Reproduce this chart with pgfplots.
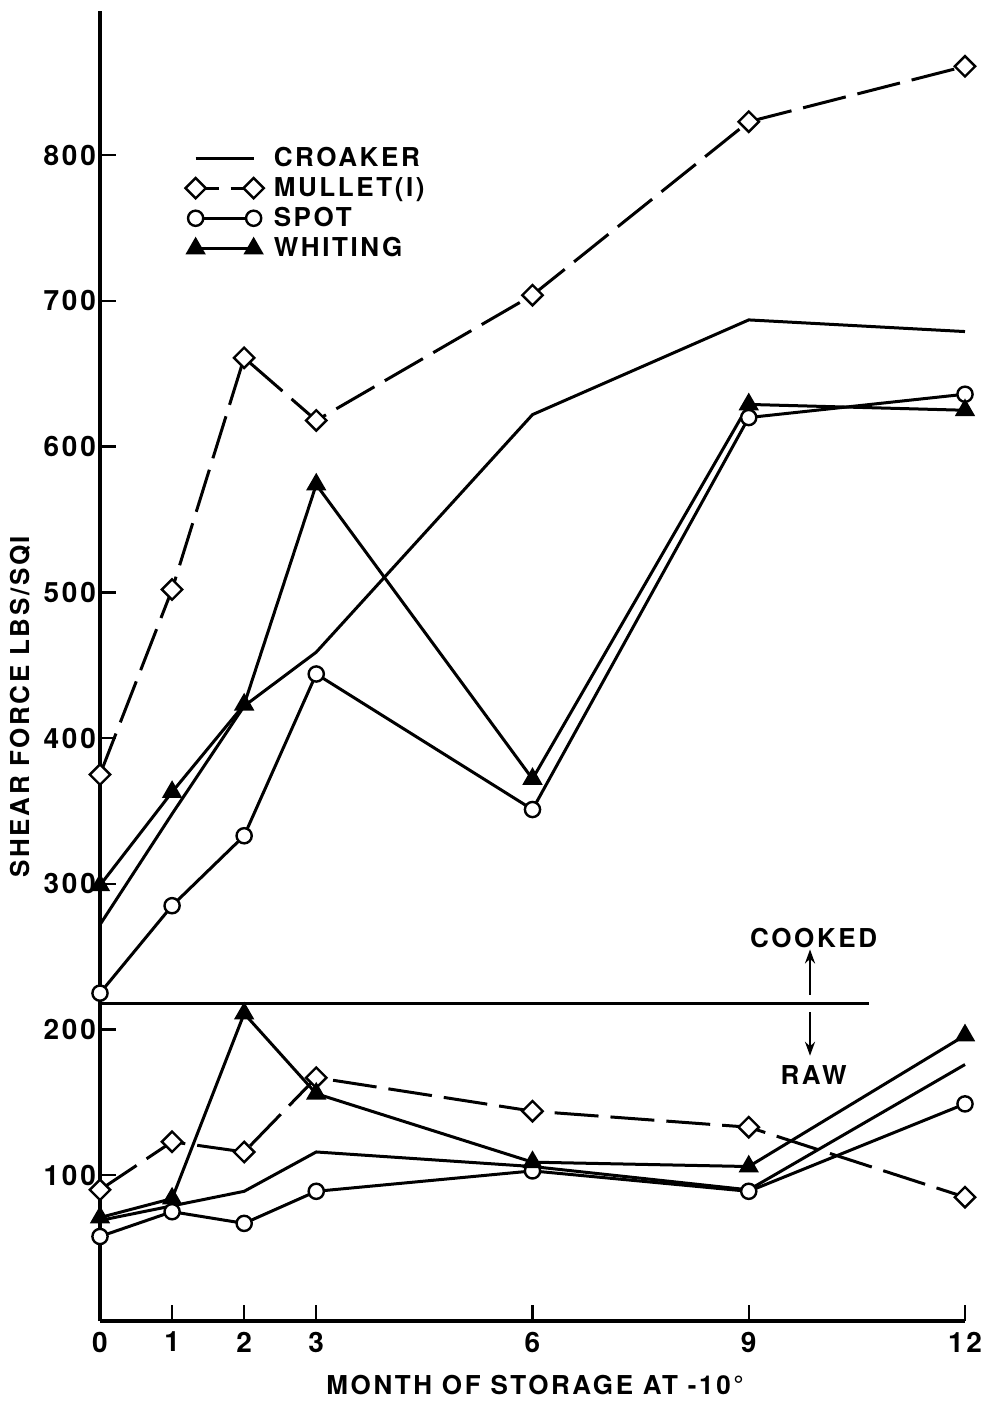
\documentclass[border=0pt]{standalone}
\usepackage{fontspec}
\setmainfont{TeX Gyre Heros}
\newfontfamily\lab{TeX Gyre Heros}[LetterSpace=10]
\usepackage{pgfplots}
\pgfplotsset{compat=1.18}
\usetikzlibrary{arrows.meta}

% Shear force of fish muscle (cooked and raw) against months of frozen storage
\pgfplotstableread{
m  croaker mullet spot whiting
0  272     375    225  299
1  348     502    285  363
2  422     661    333  423
3  459     618    444  574
6  622     704    351  372
9  687     823    620  629
12 679     861    636  625
}\cooked
\pgfplotstableread{
m  croaker mullet spot whiting
0  69      90     58   71
1  79      123    75   84
2  89      116    67   211
3  116     167    89   156
6  106     144    103  109
9  90      133    89   106
12 176     85     149  196
}\raw

\newcommand{\lbl}{\lab\bfseries\fontsize{13}{15}\selectfont}
\newcommand{\tkl}{\lab\bfseries\fontsize{14}{16}\selectfont}

\begin{document}
\begin{tikzpicture}
\path[use as bounding box] (-50pt,-42pt) rectangle (449pt,660.5pt);
\begin{axis}[
  scale only axis, width=432.5pt, height=655pt,
  xmin=0, xmax=12, ymin=0, ymax=899,
  axis lines*=left,
  axis line style={line width=1.8pt},
  xtick={0,1,2,3,6,9,12},
  ytick={100,200,...,800},
  tick align=inside,
  major tick length=8pt,
  tick style={line width=1.2pt, black},
  /pgf/number format/assume math mode=true,
  ticklabel style={font=\tkl},
  xticklabel style={yshift=-2pt},
  yticklabel style={xshift=1.5pt},
  xlabel={MONTH OF STORAGE AT -10\textdegree},
  ylabel={SHEAR FORCE LBS/SQI},
  xlabel style={at={(axis description cs:0.503,-0.049)}, anchor=center, font=\lbl},
  ylabel style={at={(axis description cs:-0.0925,0.469)}, anchor=center, font=\lbl},
  clip=false,
  every axis plot/.append style={black, line width=1.5pt},
  legend style={draw=none, fill=none, inner sep=0pt, font=\lbl,
    at={(axis cs:1.18,806)}, anchor=north west, row sep=4pt,
    nodes={inner sep=0pt},
    /tikz/column 1/.style={column sep=5pt}},
  legend cell align=left,
  legend image code/.code={\draw plot coordinates {(0pt,0pt) (29pt,0pt)};},
]
\addplot[no marks] table[x=m, y=croaker] {\cooked};
\addlegendentry{CROAKER}
\addplot[dash pattern=on 22pt off 6pt, mark=square*, mark size=3.6pt,
  mark options={rotate=45, solid, fill=white, line width=1.2pt},
  legend image post style={dash phase=10.5pt}]
  table[x=m, y=mullet] {\cooked};
\addlegendentry{MULLET(I)}
\addplot[mark=*, mark size=3.8pt, mark options={fill=white, line width=1.2pt}]
  table[x=m, y=spot] {\cooked};
\addlegendentry{SPOT}
\addplot[mark=triangle*, mark size=4.4pt, mark options={fill=black}]
  table[x=m, y=whiting] {\cooked};
\addlegendentry{WHITING}

\addplot[no marks, forget plot] table[x=m, y=croaker] {\raw};
\addplot[dash pattern=on 22pt off 6pt, mark=square*, mark size=3.6pt,
  mark options={rotate=45, solid, fill=white, line width=1.2pt}, forget plot]
  table[x=m, y=mullet] {\raw};
\addplot[mark=*, mark size=3.8pt, mark options={fill=white, line width=1.2pt}, forget plot]
  table[x=m, y=spot] {\raw};
\addplot[mark=triangle*, mark size=4.4pt, mark options={fill=black}, forget plot]
  table[x=m, y=whiting] {\raw};

% divider between the cooked and raw measurements
\addplot[no marks, line width=1.2pt, forget plot] coordinates {(0,218) (10.67,218)};
\draw[-{Stealth[length=7pt,width=5pt]}, line width=1.2pt] (axis cs:9.85,224) -- (axis cs:9.85,255);
\draw[-{Stealth[length=7pt,width=5pt]}, line width=1.2pt] (axis cs:9.85,212) -- (axis cs:9.85,182);
\node[font=\lbl] at (axis cs:9.9,263) {COOKED};
\node[font=\lbl] at (axis cs:9.9,169) {RAW};
\end{axis}
\end{tikzpicture}
\end{document}
